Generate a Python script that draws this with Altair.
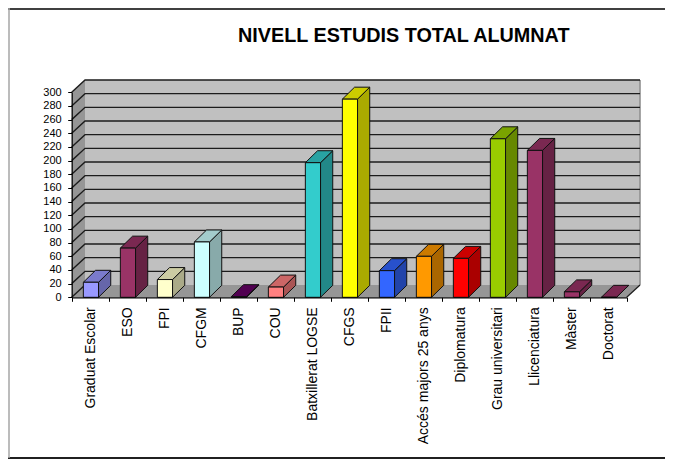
import altair as alt
import pandas as pd

categories = ["Graduat Escolar", "ESO", "FPI", "CFGM", "BUP", "COU", "Batxillerat LOGSE", "CFGS",
              "FPII", "Accés majors 25 anys", "Diplomatura", "Grau universitari", "Llicenciatura",
              "Màster", "Doctorat"]
values = [22, 72, 26, 81, 1, 15, 197, 290, 39, 60, 57, 232, 215, 8, 0]
front_colors = ["#9999ff", "#993366", "#ffffcc", "#ccffff", "#660066", "#ff8080", "#33cccc", "#ffff00",
                "#3366ff", "#ff9900", "#ff0000", "#99cc00", "#993366", "#993366", "#993366"]
y_ticks = list(range(0, 301, 20))
x_ticks = list(range(16))


def shade(hex_color, k):
    r, g, b = (int(hex_color[i:i + 2], 16) for i in (1, 3, 5))
    return "#%02x%02x%02x" % (int(r * k), int(g * k), int(b * k))


W, H = 657, 451
Y0 = 289.3
DX, DY = 0.36, 18          # depth of the 3-D box in axis units
BDX, BDY = 0.33, 17.5      # depth of a bar
LEFT, BW = 0.315, 0.41     # bar start within its category slot and bar width

xs = alt.Scale(domain=[0, 15], range=[63.7, 618.7], nice=False, zero=False)
ys = alt.Scale(domain=[0, 300], range=[Y0, 84.3], nice=False, zero=False)
x_axis = alt.Axis(values=x_ticks, labels=False, title=None, grid=False, tickSize=4, tickColor="black",
                  domainColor="black", domainWidth=1.2, offset=Y0 - H, zindex=1)
y_axis = alt.Axis(values=y_ticks, title=None, grid=False, tickSize=4, tickColor="black", domainColor="black",
                  domainWidth=1.2, offset=-63.7, labelFontSize=11, labelFont="Liberation Sans",
                  labelColor="black", labelPadding=6.5, zindex=1, labelOverlap=False)
X = lambda f="x": alt.X(f"{f}:Q", scale=xs, axis=x_axis)
Y = lambda f="y": alt.Y(f"{f}:Q", scale=ys, axis=y_axis)

back = alt.Chart(pd.DataFrame([{"x": DX, "x2": 15 + DX, "y": DY, "y2": 300 + DY}])).mark_rect(color="#c0c0c0").encode(
    x=X(), x2="x2:Q", y=Y(), y2="y2:Q")
side_wall = alt.Chart(pd.DataFrame([{"x": 0, "y": 0, "y2": 300}, {"x": DX, "y": DY, "y2": 300 + DY}])).mark_area(
    color="#969696", orient="vertical").encode(x=X(), y=Y(), y2="y2:Q")
floor = alt.Chart(pd.DataFrame([{"y": 0, "x": 0, "x2": 15}, {"y": DY, "x": DX, "x2": 15 + DX}])).mark_area(
    color="#969696", orient="horizontal").encode(y=Y(), x=X(), x2="x2:Q")
right_edge = alt.Chart(pd.DataFrame([{"x": 15 + DX, "y": DY}, {"x": 15 + DX, "y": 300 + DY}])).mark_line(
    color="#8c8c8c", strokeWidth=1.5).encode(x=X(), y=Y())

grid_rows = []
for v in y_ticks:
    grid_rows.append({"v": v, "o": 0, "x": 0, "y": v})
    grid_rows.append({"v": v, "o": 1, "x": DX, "y": v + DY})
    if v > 0:
        grid_rows.append({"v": v, "o": 2, "x": 15 + DX, "y": v + DY})
grid = alt.Chart(pd.DataFrame(grid_rows)).mark_line(color="#1c1c1c", strokeWidth=1.4).encode(
    x=X(), y=Y(), detail="v:N", order="o:Q")
floor_edge = alt.Chart(pd.DataFrame([{"x": 15, "y": 0}, {"x": 15 + DX, "y": DY}])).mark_line(
    color="#1c1c1c", strokeWidth=1.2).encode(x=X(), y=Y())

front_rows, side_rows, top_rows = [], [], []
for i, (c, v, col) in enumerate(zip(categories, values, front_colors)):
    x0, x1 = i + LEFT, i + LEFT + BW
    front_rows.append({"cat": c, "x": x0, "x2": x1, "y": 0, "y2": v, "col": col})
    sc, tc = shade(col, 0.667), shade(col, 0.8)
    side_rows += [{"cat": c, "x": x1, "y": 0, "y2": v, "col": sc},
                  {"cat": c, "x": x1 + BDX, "y": BDY, "y2": v + BDY, "col": sc}]
    top_rows += [{"cat": c, "y": v, "x": x0, "x2": x1, "col": tc},
                 {"cat": c, "y": v + BDY, "x": x0 + BDX, "x2": x1 + BDX, "col": tc}]

stroke = dict(stroke="#111111", strokeWidth=1)
sides = alt.Chart(pd.DataFrame(side_rows)).mark_area(orient="vertical", **stroke).encode(
    x=X(), y=Y(), y2="y2:Q", fill=alt.Fill("col:N", scale=None), detail="cat:N")
tops = alt.Chart(pd.DataFrame(top_rows)).mark_area(orient="horizontal", **stroke).encode(
    y=Y(), x=X(), x2="x2:Q", fill=alt.Fill("col:N", scale=None), detail="cat:N")
fronts = alt.Chart(pd.DataFrame(front_rows)).mark_rect(**stroke).encode(
    x=X(), x2="x2:Q", y=Y(), y2="y2:Q", fill=alt.Fill("col:N", scale=None))

labels = alt.Chart(pd.DataFrame({"cat": categories, "x": [i + 0.5 for i in range(15)], "y": [0] * 15})).mark_text(
    angle=270, align="right", baseline="middle", font="Liberation Sans", fontSize=14, color="black",
    yOffset=10, xOffset=1
).encode(x=X(), y=Y(), text="cat:N")

frame_top = alt.Chart(pd.DataFrame({"k": [0]})).mark_rule(color="#404040", strokeWidth=2).encode(
    x=alt.value(0), x2=alt.value(W), y=alt.value(1))
frame_bottom = alt.Chart(pd.DataFrame({"k": [0]})).mark_rule(color="#202020", strokeWidth=2).encode(
    x=alt.value(0), x2=alt.value(W), y=alt.value(H - 1))
frame_left = alt.Chart(pd.DataFrame({"k": [0]})).mark_rule(color="#a6a6a6", strokeWidth=1.5).encode(
    x=alt.value(1), y=alt.value(0), y2=alt.value(H - 1))

chart = alt.layer(
    back, side_wall, floor, right_edge, grid, floor_edge, sides, tops, fronts, labels,
    frame_top, frame_bottom, frame_left
).properties(
    width=W, height=H, padding=0, autosize=alt.AutoSizeParams(type="none"), background="white",
    title=alt.TitleParams("NIVELL ESTUDIS TOTAL ALUMNAT", anchor="start", frame="group", font="Liberation Sans",
                          fontSize=19.8, fontWeight="bold", color="black", dx=230, dy=39, offset=0),
).configure_view(stroke=None)

chart.save("out.html", embed_options={"renderer": "svg", "actions": False})
